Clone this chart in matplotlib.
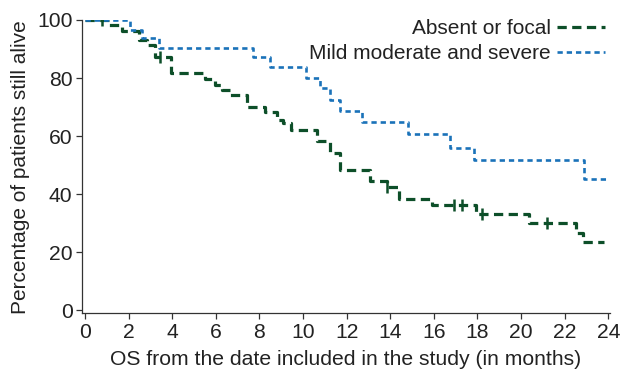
import numpy as np
import matplotlib
matplotlib.use('Agg')
import matplotlib.pyplot as plt

plt.rcParams['font.family'] = ['Liberation Sans', 'DejaVu Sans']

# Kaplan-Meier steps (time in months, % alive after the step)
green_t = [0, 1.1, 1.71, 2.48, 2.86, 3.21, 3.94, 5.5, 5.96, 6.27, 6.65, 7.44, 8.26, 8.82,
           9.08, 9.45, 10.63, 11.24, 11.7, 13.07, 13.84, 14.42, 15.9, 17.94, 20.38,
           22.52, 22.86, 23.8]
green_s = [100, 98.2, 96.2, 93.0, 91.3, 87.2, 81.6, 79.7, 77.6, 75.9, 74.1, 70.1, 68.4, 65.5,
           64.4, 62.1, 58.3, 54.2, 48.3, 44.5, 42.3, 38.3, 36.2, 33.3, 30.2,
           26.7, 23.6, 23.6]
green_cens = [0.79, 3.46, 13.84, 16.93, 17.28, 18.2, 21.18]

blue_t = [0, 2.06, 2.6, 3.39, 7.71, 8.49, 10.12, 10.78, 11.24, 11.7, 12.72, 14.83,
          16.74, 17.84, 22.89, 24.0]
blue_s = [100, 96.6, 93.7, 90.4, 87.3, 83.8, 80.1, 76.4, 72.4, 68.6, 64.7, 60.6,
          56.0, 51.7, 45.3, 45.3]

labels = ['Absent or focal', 'Mild moderate and severe']
green = '#0d4f29'
blue = '#1a72b9'
txt = '#222222'


def level_at(t, times, surv):
    i = np.searchsorted(times, t, side='right') - 1
    return np.array(surv)[i]


fig = plt.figure(figsize=(6.22, 3.75), dpi=100)
ax = fig.add_axes([0.1318, 0.1645, 0.849, 0.7822])

l1, = ax.step(green_t, green_s, where='post', color=green, lw=2.3,
              dashes=(2.9, 1.7), label=labels[0])
l2, = ax.step(blue_t, blue_s, where='post', color=blue, lw=1.9,
              dashes=(2.0, 1.5), label=labels[1])
ax.plot(green_cens, level_at(green_cens, green_t, green_s), ls='none',
        marker='|', ms=9, mew=1.8, color=green)

ax.set_xlim(-0.14, 24.08)
ax.set_ylim(-1.1, 100)
ax.set_xticks(np.arange(0, 25, 2))
ax.set_yticks(np.arange(0, 101, 20))
ax.tick_params(labelsize=15.2, length=4.3, width=0.9, pad=2.5,
               color='#333333', labelcolor=txt)
for s in ['top', 'right']:
    ax.spines[s].set_visible(False)
for s in ['left', 'bottom']:
    ax.spines[s].set_linewidth(0.9)
    ax.spines[s].set_color('#333333')

ax.set_xlabel('OS from the date included in the study (in months)', fontsize=15.2,
              color=txt)
ax.set_ylabel('Percentage of patients still alive', fontsize=15, color=txt)
ax.xaxis.set_label_coords(0.5, -0.125)
ax.yaxis.set_label_coords(-0.098, 0.5)

ax.legend(handles=[l1, l2], loc='upper right', bbox_to_anchor=(605 / 622, 1 - 19 / 375),
          bbox_transform=fig.transFigure, borderaxespad=0, borderpad=0,
          frameon=False, markerfirst=False, fontsize=15, handlelength=2.3,
          handletextpad=0.3, labelspacing=0.3, labelcolor=txt)

fig.savefig('out.png', dpi=100)
